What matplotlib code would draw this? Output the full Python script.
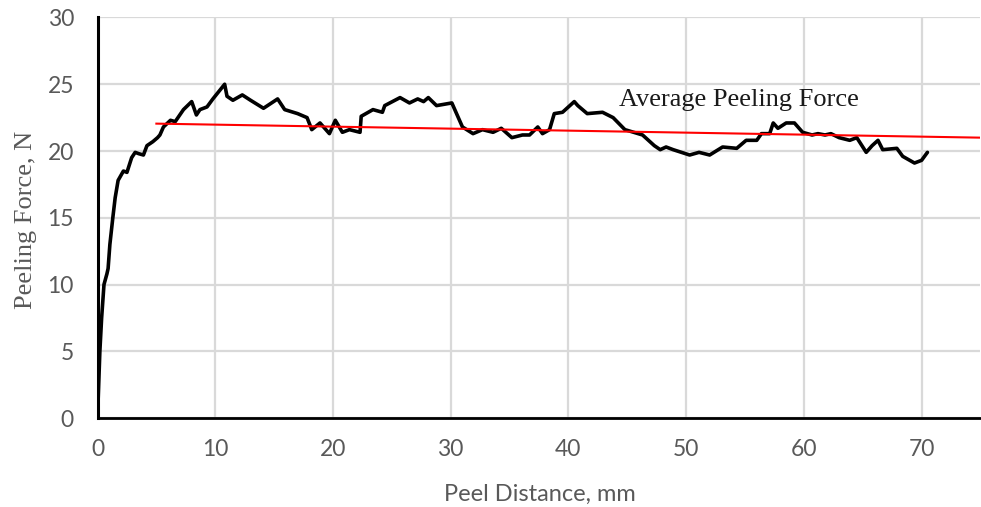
import matplotlib
matplotlib.use("Agg")
import matplotlib.pyplot as plt

# Peel test curve
peel_distance = [0.0, 0.1, 0.2, 0.35, 0.55, 0.8, 0.9, 1.05, 1.3, 1.5, 1.75, 2.2, 2.5, 2.9, 3.2,
                 3.5, 3.9, 4.2, 4.7, 5.1, 5.3, 5.6, 6.2, 6.6, 7.3, 8.0, 8.4, 8.7, 9.3, 9.8,
                 10.8, 11.0, 11.5, 12.3, 13.0, 14.1, 15.3, 15.9, 17.0, 17.8, 18.2, 18.9,
                 19.7, 20.2, 20.8, 21.4, 22.3, 22.4, 23.4, 24.2, 24.4, 25.7, 26.5, 27.2,
                 27.7, 28.1, 28.8, 30.1, 31.0, 31.9, 32.7, 33.6, 34.3, 35.2, 36.1, 36.7,
                 37.4, 37.8, 38.4, 38.8, 39.5, 40.5, 40.8, 41.6, 42.9, 43.8, 44.8, 46.3,
                 47.3, 47.8, 48.3, 48.9, 50.3, 51.1, 52.0, 53.1, 54.3, 55.1, 56.0, 56.4,
                 57.1, 57.4, 57.8, 58.5, 59.2, 59.9, 60.7, 61.2, 61.8, 62.3, 63.0, 63.9,
                 64.5, 65.3, 65.8, 66.3, 66.7, 67.9, 68.4, 69.4, 70.0, 70.5]
peeling_force = [0.0, 2.5, 5.0, 7.5, 10.0, 10.8, 11.2, 13.0, 15.0, 16.5, 17.8, 18.5, 18.4, 19.5, 19.9,
                 19.8, 19.7, 20.4, 20.7, 21.0, 21.2, 21.8, 22.3, 22.2, 23.1, 23.7, 22.7, 23.1, 23.3, 23.9,
                 25.0, 24.1, 23.8, 24.2, 23.8, 23.2, 23.9, 23.1, 22.8, 22.5, 21.6, 22.1,
                 21.3, 22.3, 21.4, 21.6, 21.4, 22.6, 23.1, 22.9, 23.4, 24.0, 23.6, 23.9,
                 23.7, 24.0, 23.4, 23.6, 21.8, 21.3, 21.6, 21.4, 21.7, 21.0, 21.2, 21.2,
                 21.8, 21.3, 21.6, 22.8, 22.9, 23.7, 23.4, 22.8, 22.9, 22.5, 21.6, 21.2,
                 20.4, 20.1, 20.3, 20.1, 19.7, 19.9, 19.7, 20.3, 20.2, 20.8, 20.8, 21.3,
                 21.3, 22.1, 21.7, 22.1, 22.1, 21.4, 21.2, 21.3, 21.2, 21.3, 21.0, 20.8,
                 21.0, 19.9, 20.4, 20.8, 20.1, 20.2, 19.6, 19.1, 19.3, 19.9]

# Average peeling force trend line
avg_x = [5.0, 75.0]
avg_y = [22.05, 21.0]
avg_label = "Average Peeling Force"

x_ticks = [0, 10, 20, 30, 40, 50, 60, 70]
y_ticks = [0, 5, 10, 15, 20, 25, 30]

fig = plt.figure(figsize=(9.81, 5.07), dpi=100)
ax = fig.add_axes([0.0994, 0.1755, 0.9, 0.79])

ax.plot(peel_distance, peeling_force, color="black", lw=2.6, solid_joinstyle="round",
        solid_capstyle="round", zorder=3)
ax.plot(avg_x, avg_y, color="#ff0000", lw=1.5, zorder=4)
ax.text(44.3, 23.35, avg_label, family="Liberation Serif", fontsize=19, color="#1a1a1a",
        ha="left", va="baseline")

ax.set_xlim(0, 75)
ax.set_ylim(0, 30)
ax.set_xticks(x_ticks)
ax.set_yticks(y_ticks)
ax.grid(True, color="#d9d9d9", lw=1.6)
ax.set_axisbelow(True)
for s in ["top", "right"]:
    ax.spines[s].set_visible(False)
ax.spines["left"].set_linewidth(2.2)
ax.spines["bottom"].set_linewidth(2.0)
ax.spines["left"].set_color("black")
ax.spines["bottom"].set_color("black")
ax.tick_params(length=0, labelsize=16.5, labelcolor="#595959")
ax.tick_params(axis="y", pad=17)
ax.tick_params(axis="x", pad=15)
for lab in ax.get_xticklabels() + ax.get_yticklabels():
    lab.set_family("Lato")

fig.text(0.5505, 0.012, "Peel Distance, mm", family="Lato", fontsize=17, color="#595959",
         ha="center", va="baseline")
fig.text(0.026, 0.566, "Peeling Force, N", family="Liberation Serif", fontsize=19,
         color="#595959", rotation=90, ha="center", va="center")

fig.savefig("out.png", dpi=100)
